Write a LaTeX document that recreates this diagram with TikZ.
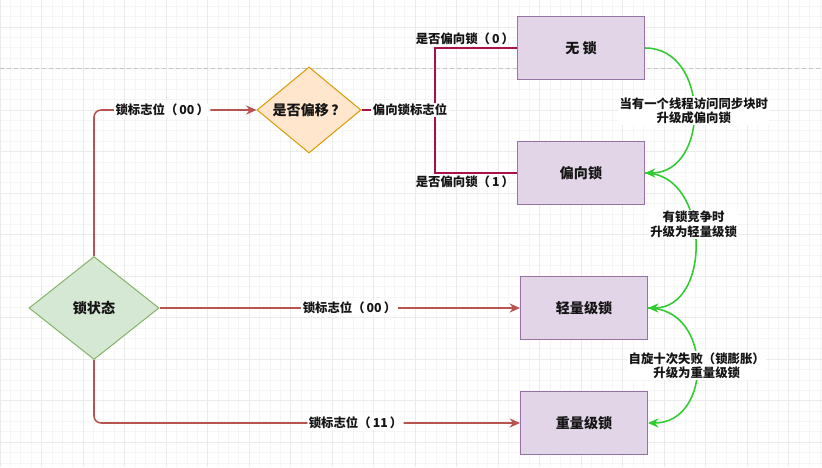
\documentclass[tikz,border=0pt]{standalone}
\usepackage{fontspec}
\setmainfont{Noto Sans CJK SC}
\usetikzlibrary{arrows.meta,positioning,shapes.geometric}
\definecolor{gridminor}{HTML}{F5F5F5}
\definecolor{gridmajor}{HTML}{EBEBEB}
\definecolor{linered}{HTML}{B85450}
\definecolor{linemag}{HTML}{A8114A}
\definecolor{linegreen}{HTML}{2ECC2E}
\definecolor{lockfill}{HTML}{E1D5E7}
\definecolor{lockdraw}{HTML}{9673A6}
\definecolor{statefill}{HTML}{D5E8D4}
\definecolor{statedraw}{HTML}{82B366}
\definecolor{askfill}{HTML}{FFE6CC}
\definecolor{askdraw}{HTML}{D79B00}
\definecolor{ink}{HTML}{151515}

\tikzset{
  lockbox/.style={draw=lockdraw,fill=lockfill,text=ink,line width=0.7pt,minimum width=3.175cm,minimum height=1.575cm,font=\bfseries\fontsize{10}{12}\selectfont},
  statediamond/.style={diamond,draw=statedraw,fill=statefill,text=ink,line width=0.7pt,inner sep=0pt,minimum width=3.25cm,minimum height=2.575cm,font=\bfseries\fontsize{10}{12}\selectfont},
  askdiamond/.style={diamond,draw=askdraw,fill=askfill,text=ink,line width=0.7pt,inner sep=0pt,minimum width=2.6cm,minimum height=2.1cm,font=\bfseries\fontsize{10}{12}\selectfont},
  flag/.style={fill=white,text=ink,inner sep=1pt,align=center,font=\bfseries\fontsize{8.8}{10.2}\selectfont},
  sideflag/.style={text=ink,inner sep=1.5pt,font=\bfseries\fontsize{8.8}{10.2}\selectfont},
  redarrow/.style={-{Stealth[length=2.6mm,width=2.3mm]},line width=1.1pt,linered},
  magline/.style={line width=1.1pt,linemag},
  greenarrow/.style={-{Stealth[length=2.6mm,width=2.3mm]},line width=1.1pt,linegreen}
}

\begin{document}
\begin{tikzpicture}[x=0.025cm,y=-0.025cm]
  \useasboundingbox (0,0) rectangle (822,467);
  \fill[white] (0,0) rectangle (822,467);
  % canvas grid
  \begin{scope}[shift={(0,27)}]
    \draw[gridminor,line width=0.4pt,step=0.259375cm] (0,-27) grid (822,440);
    \draw[gridmajor,line width=0.5pt,step=1.0375cm] (0,-27) grid (822,440);
  \end{scope}
  \draw[gray!45,dash pattern=on 3pt off 2pt] (0,68) -- (822,68);

  % states
  \node[statediamond] (state) at (94,308) {锁状态};
  \node[askdiamond] (ask) at (309,110) {是否偏移\,？};
  \node[lockbox] (nolock) at (581,48) {无 锁};
  \node[lockbox] (biased) at (581,173) {偏向锁};
  \node[lockbox] (light) at (584,308) {轻量级锁};
  \node[lockbox] (heavy) at (584,423) {重量级锁};
  \coordinate (fork) at (435,110);

  % lock flag
  \draw[redarrow,rounded corners=5pt] (state.north) |- node[flag,pos=0.71]{锁标志位（\,00\,）} (ask.west);
  \draw[redarrow] (state.east) -- node[flag,pos=0.527]{锁标志位（\,00\,）} (light.west);
  \draw[redarrow,rounded corners=5pt] (state.south) |- node[flag,pos=0.807]{锁标志位（\,11\,）} (heavy.west);

  % biased flag
  \draw[magline] (fork) |- node[sideflag,pos=1,anchor=south east]{是否偏向锁（\,0\,）} (nolock.west);
  \draw[magline] (fork) |- node[sideflag,pos=1,anchor=north east]{是否偏向锁（\,1\,）} (biased.west);
  \draw[magline] (ask.east) -- node[flag,pos=0.66]{偏向锁标志位} (fork);

  % upgrades
  \draw[greenarrow] (nolock.east) .. controls +(65,0) and +(65,0) .. node[flag]{当有一个线程访问同步块时\\升级成偏向锁} (biased.east);
  \draw[greenarrow] (biased.east) .. controls +(65,0) and +(65,0) .. node[flag,pos=0.42]{有锁竞争时\\升级为轻量级锁} (light.east);
  \draw[greenarrow] (light.east) .. controls +(65,0) and +(65,0) .. node[flag]{自旋十次失败（锁膨胀）\\升级为重量级锁} (heavy.east);
\end{tikzpicture}
\end{document}
